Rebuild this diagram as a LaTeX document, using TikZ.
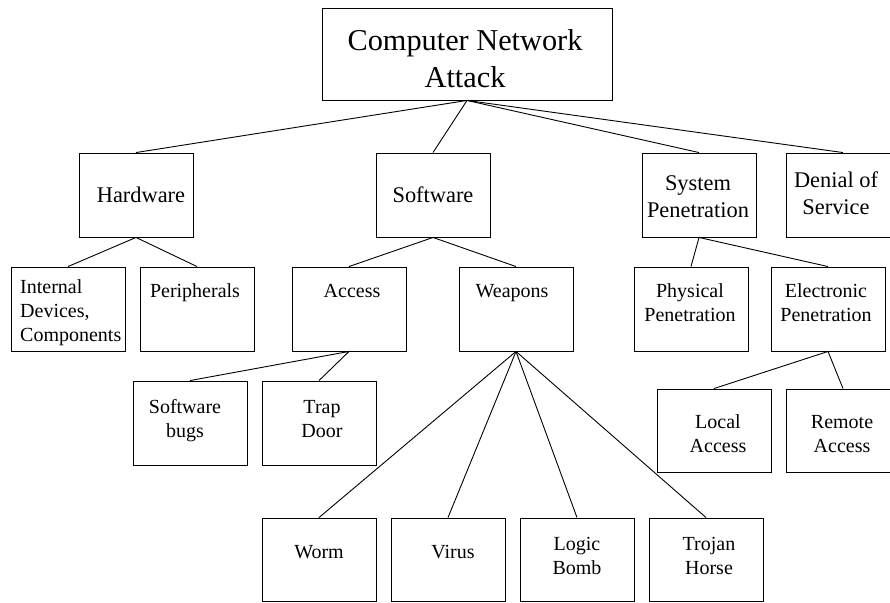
\documentclass[tikz,border=0pt]{standalone}
\usepackage{fontspec}
\setmainfont{Liberation Serif}
\newcommand{\stk}[1]{\begin{tabular}[t]{@{}c@{}}#1\end{tabular}}
\newcommand{\stkl}[1]{\begin{tabular}[t]{@{}l@{}}#1\end{tabular}}
\tikzset{
	box/.style={draw, line width=0.9pt, minimum width=114pt, minimum height=84pt, inner sep=0pt},
	txt/.style={anchor=base, inner sep=0pt, font=\fontsize{20}{24}\selectfont},
	txtbig/.style={txt, font=\fontsize{22.4}{27}\selectfont},
	link/.style={line width=0.9pt}
}

\begin{document}
\begin{tikzpicture}[x=1pt, y=-1pt]
		\useasboundingbox (0, 0) rectangle (890, 602);

		% boxes
		\node [box, minimum width=290pt, minimum height=92pt] (cna) at (467, 54) {};
		\node [box] (hw) at (136, 195) {};
		\node [box] (sw) at (433, 195) {};
		\node [box] (sp) at (699, 195) {};
		\node [box] (dos) at (843, 195) {};

		\node [box] (int) at (68, 309) {};
		\node [box] (per) at (197, 309) {};
		\node [box] (acc) at (349, 309) {};
		\node [box] (wea) at (516, 309) {};
		\node [box] (phy) at (691, 309) {};
		\node [box] (ele) at (828, 309) {};

		\node [box] (bug) at (190, 423) {};
		\node [box] (trap) at (319, 423) {};
		\node [box, minimum height=83pt] (loc) at (714, 430.5) {};
		\node [box, minimum height=83pt] (rem) at (843, 430.5) {};

		\node [box, minimum height=83pt] (worm) at (319, 559.5) {};
		\node [box, minimum height=83pt] (vir) at (448, 559.5) {};
		\node [box, minimum height=83pt] (bomb) at (577, 559.5) {};
		\node [box, minimum height=83pt] (troj) at (706, 559.5) {};

		% texts
		\node [txt, font=\fontsize{30.3}{37}\selectfont] (cna-t) at (465, 50) {\stk{Computer Network\\Attack}};
		\node [txtbig] (hw-t) at (141, 202) {Hardware};
		\node [txtbig] (sw-t) at (433, 202) {Software};
		\node [txtbig] (sp-t) at (698, 190) {\stk{System\\Penetration}};
		\node [txtbig] (dos-t) at (836, 187) {\stk{Denial of\\Service}};

		\node [txt, anchor=base west] (int-t) at (20, 293) {\stkl{Internal\\Devices,\\Components}};
		\node [txt] (per-t) at (195, 297) {Peripherals};
		\node [txt] (acc-t) at (352, 297) {Access};
		\node [txt] (wea-t) at (512, 297) {Weapons};
		\node [txt] (phy-t) at (690, 297) {\stk{Physical\\Penetration}};
		\node [txt] (ele-t) at (826, 297) {\stk{Electronic\\Penetration}};

		\node [txt] (bug-t) at (185, 413) {\stk{Software\\bugs}};
		\node [txt] (trap-t) at (322, 413) {\stk{Trap\\Door}};
		\node [txt] (loc-t) at (718, 428) {\stk{Local\\Access}};
		\node [txt] (rem-t) at (842, 428) {\stk{Remote\\Access}};

		\node [txt] (worm-t) at (319, 558) {Worm};
		\node [txt] (vir-t) at (453, 558) {Virus};
		\node [txt] (bomb-t) at (577, 550) {\stk{Logic\\Bomb}};
		\node [txt] (troj-t) at (709, 550) {\stk{Trojan\\Horse}};

		% links
		\foreach \c in {hw, sw, sp, dos}
			\draw [link] (cna.south) -- (\c.north);
		\draw [link] (int.north) -- (hw.south) -- (per.north);
		\draw [link] (acc.north) -- (sw.south) -- (wea.north);
		\draw [link] (phy.north) -- (sp.south) -- (ele.north);
		\draw [link] (bug.north) -- (acc.south) -- (trap.north);
		\draw [link] (loc.north) -- (ele.south) -- (rem.north);
		\foreach \c in {worm, vir, bomb, troj}
			\draw [link] (wea.south) -- (\c.north);
	\end{tikzpicture}
\end{document}
